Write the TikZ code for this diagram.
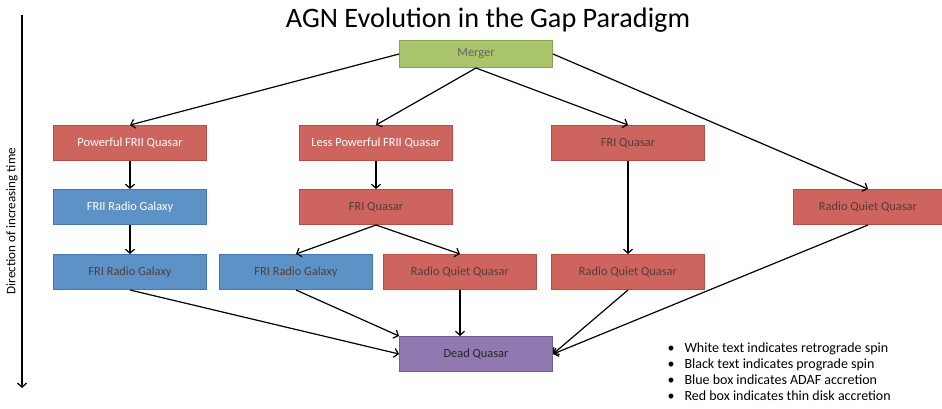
\documentclass[tikz,border=0pt]{standalone}
\usepackage{fontspec}
\setmainfont{Carlito}
\usetikzlibrary{arrows.meta,calc}
\definecolor{QsrRed}{RGB}{205,100,94}
\definecolor{QsrRedLine}{RGB}{184,77,72}
\definecolor{GlxBlue}{RGB}{93,146,199}
\definecolor{GlxBlueLine}{RGB}{70,118,176}
\definecolor{MrgGreen}{RGB}{169,196,106}
\definecolor{MrgGreenLine}{RGB}{134,165,80}
\definecolor{DeadPurple}{RGB}{143,121,176}
\definecolor{DeadPurpleLine}{RGB}{112,93,150}
\definecolor{DimText}{RGB}{85,60,58}

\tikzset{
  box/.style={draw,line width=1pt,minimum width=153pt,minimum height=35pt,
    inner sep=0pt,font=\fontsize{12.4}{14}\selectfont},
  redbox/.style={box,fill=QsrRed,draw=QsrRedLine},
  bluebox/.style={box,fill=GlxBlue,draw=GlxBlueLine},
  retro/.style={text=white},
  pro/.style={text=DimText},
  flow/.style={line width=1.2pt,-{Straight Barb[length=4pt,width=9pt]}}
}

\begin{document}
\begin{tikzpicture}[x=1pt,y=-1pt]
\useasboundingbox (0,0) rectangle (942,408);

\node[font=\fontsize{28.2}{32}\selectfont] (title) at (488,20) {AGN Evolution in the Gap Paradigm};

% time axis
\coordinate (t0) at (22,15);
\coordinate (t1) at (22,388);
\draw[line width=1.3pt,-{Straight Barb[length=4pt,width=9pt]}] (t0) -- (t1);
\node[rotate=90,font=\fontsize{13.1}{15}\selectfont] (tlabel) at (12,221) {Direction of increasing time};

% boxes
\node[box,fill=MrgGreen,draw=MrgGreenLine,minimum height=27pt,text=black!60] (merger) at (476,54) {Merger};

\node[redbox,retro] (pfrii) at (130,143) {Powerful FRII Quasar};
\node[redbox,retro] (lpfrii) at (376,143) {Less Powerful FRII Quasar};
\node[redbox,pro] (friq) at (628,143) {FRI Quasar};

\node[bluebox,retro] (friirg) at (130,207) {FRII Radio Galaxy};
\node[redbox,pro] (friqb) at (376,207) {FRI Quasar};
\node[redbox,pro,minimum width=150pt] (rqqa) at (868,207) {Radio Quiet Quasar};

\node[bluebox,pro] (frirga) at (130,272) {FRI Radio Galaxy};
\node[bluebox,pro] (frirgb) at (296,272) {FRI Radio Galaxy};
\node[redbox,pro] (rqqb) at (460,272) {Radio Quiet Quasar};
\node[redbox,pro] (rqqc) at (628,272) {Radio Quiet Quasar};

\node[box,fill=DeadPurple,draw=DeadPurpleLine,text=black!85] (dead) at (476,354) {Dead Quasar};

% arrows
\draw[flow] (merger.west) -- (pfrii.north);
\draw[flow] (merger.south) -- (lpfrii.north);
\draw[flow] (merger.south) -- (friq.north);
\draw[flow] (merger.east) -- (rqqa.north);

\draw[flow] (pfrii) -- (friirg);
\draw[flow] (friirg) -- (frirga);
\draw[flow] (lpfrii) -- (friqb);
\draw[flow] (friqb.south) -- (frirgb.north);
\draw[flow] (friqb.south) -- (rqqb.north);
\draw[flow] (friq) -- (rqqc);

\draw[flow] (frirga.south) -- (dead.west);
\draw[flow] (frirgb.south) -- (dead.north west);
\draw[flow] (rqqb) -- (dead.north -| rqqb);
\draw[flow] (rqqc.south) -- (dead.east);
\draw[flow] (rqqa.south) -- (dead.east);

% legend
\node[anchor=north west,font=\fontsize{14}{16.2}\selectfont,align=left] (legend) at (664,339)
  {\textbullet\hspace{10pt}White text indicates retrograde spin\\
   \textbullet\hspace{10pt}Black text indicates prograde spin\\
   \textbullet\hspace{10pt}Blue box indicates ADAF accretion\\
   \textbullet\hspace{10pt}Red box indicates thin disk accretion};
\end{tikzpicture}
\end{document}
